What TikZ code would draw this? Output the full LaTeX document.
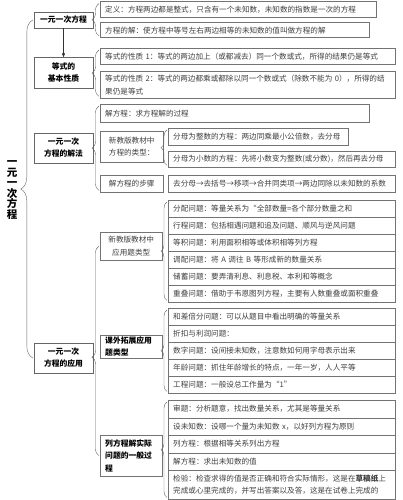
\documentclass[tikz,border=0pt]{standalone}
\usepackage{fontspec}
\setmainfont{Noto Sans CJK SC}
\usetikzlibrary{arrows,shadows,decorations.pathreplacing}
\tikzset{
  >=stealth'
}

\begin{document}
\begin{tikzpicture}[x=1pt,y=-1pt,
    boxshadow/.style={drop shadow={shadow xshift=0.7pt,shadow yshift=-0.7pt,fill=black!40}},
    topic/.style={draw=black!60,fill=white,align=center,inner sep=1pt,minimum width=59pt,boxshadow,font=\fontsize{7.8}{12}\selectfont\bfseries},
    item/.style={draw=black!55,fill=white,text=black!75,anchor=north west,align=left,inner xsep=5pt,inner ysep=0pt,boxshadow,font=\fontsize{7.6}{12.8}\selectfont},
    tag/.style={draw=black!55,fill=white,text=black!75,anchor=north west,align=center,inner sep=1pt,boxshadow,font=\fontsize{7.6}{12.5}\selectfont},
    brace/.style={decorate,decoration={brace,amplitude=#1},draw=black!60}]
        \useasboundingbox (0,0) rectangle (403,500);

        % root and first level
        \node (root) at (12,190) [align=center,font=\fontsize{10.5}{10.6}\selectfont\bfseries] {一\\元\\一\\次\\方\\程};
        \node (L1a) at (63.5,20) [topic,minimum height=16pt] {一元一次方程};
        \node (L1b) at (63.5,72.5) [topic,minimum height=31pt] {等式的\\基本性质};
        \node (L1c) at (63.5,148) [topic,minimum height=30pt] {一元一次\\方程的解法};
        \node (L1d) at (63.5,358) [topic,minimum height=30pt] {一元一次\\方程的应用};
        \draw[->,black!80] (L1a) -- (L1b);
        \draw[brace=12pt] ([xshift=-1pt]L1d.west) -- ([xshift=-1pt]L1a.west);

        % definition
        \node (def) at (100,1.5) [item,text width=266pt,minimum height=15.5pt] {定义：方程两边都是整式，只含有一个未知数，未知数的指数是一次的方程};
        \node (sol) at (100,22.5) [item,text width=259pt,minimum height=15pt] {方程的解：使方程中等号左右两边相等的未知数的值叫做方程的解};
        \draw[brace=7pt] ([shift={(-1,-2)}]sol.south west) -- ([shift={(-1,2)}]def.north west);

        % properties
        \node (p1) at (100,48) [item,text width=285pt,minimum height=16pt] {等式的性质 1：等式的两边加上（或都减去）同一个数或式，所得的结果仍是等式};
        \node (p2) at (100,71) [item,text width=285pt,minimum height=27pt] {等式的性质 2：等式的两边都乘或都除以同一个数或式（除数不能为 0），所得的结\\果仍是等式};
        \draw[brace=7pt] ([shift={(-1,-2)}]p2.south west) -- ([shift={(-1,2)}]p1.north west);

        % solving
        \node (jie) at (100,104) [item,text width=259pt,minimum height=18pt] {解方程：求方程解的过程};
        \node (kind) at (100,131) [tag,minimum width=63pt,minimum height=31pt] {新教版教材中\\方程的类型：};
        \node (t1) at (168,128) [item,text width=170pt,minimum height=17pt] {分母为整数的方程：两边同乘最小公倍数，去分母};
        \node (t2) at (168,151) [item,text width=217pt,minimum height=16pt] {分母为小数的方程：先将小数变为整数(或分数)，然后再去分母};
        \node (steps) at (100,175) [tag,minimum width=63pt,minimum height=17pt] {解方程的步骤};
        \node (st) at (168,175) [item,text width=217pt,minimum height=17pt] {去分母→去括号→移项→合并同类项→两边同除以未知数的系数};
        \draw[brace=7pt] ([shift={(-1,-2)}]steps.south west) -- ([shift={(-1,2)}]jie.north west);
        \draw[brace=6pt] ([shift={(-1,-2)}]t2.south west) -- ([shift={(-1,2)}]t1.north west);

        % applications
        \node (app1) at (100,232) [tag,minimum width=62pt,minimum height=28pt] {新教版教材中\\应用题类型};
        \node (a1) at (168,200) [item,text width=217pt,minimum height=17pt] {分配问题：等量关系为“全部数量=各个部分数量之和};
        \node (a2) at (168,217) [item,text width=217pt,minimum height=17pt] {行程问题：包括相遇问题和追及问题、顺风与逆风问题};
        \node (a3) at (168,234) [item,text width=217pt,minimum height=17pt] {等积问题：利用面积相等或体积相等列方程};
        \node (a4) at (168,251) [item,text width=217pt,minimum height=17pt] {调配问题：将 A 调往 B 等形成新的数量关系};
        \node (a5) at (168,268) [item,text width=217pt,minimum height=17pt] {储蓄问题：要弄清利息、利息税、本利和等概念};
        \node (a6) at (168,285) [item,text width=217pt,minimum height=17pt] {重叠问题：借助于韦恩图列方程，主要有人数重叠或面积重叠};
        \draw[brace=6pt] ([shift={(-1,-2)}]a6.south west) -- ([shift={(-1,2)}]a1.north west);

        \node (app2) at (100,335) [tag,align=left,text width=52pt,inner xsep=5pt,minimum height=23pt,text=black,font=\fontsize{7.8}{12.5}\selectfont\bfseries] {课外拓展应用\\题类型};
        \node (b1) at (168,308) [item,text width=217pt,minimum height=17pt] {和差倍分问题：可以从题目中看出明确的等量关系};
        \node (b2) at (168,325) [item,text width=217pt,minimum height=17pt] {折扣与利润问题：};
        \node (b3) at (168,342) [item,text width=217pt,minimum height=17pt] {数字问题：设间接未知数，注意数如何用字母表示出来};
        \node (b4) at (168,359) [item,text width=217pt,minimum height=17pt] {年龄问题：抓住年龄增长的特点，一年一岁，人人平等};
        \node (b5) at (168,376) [item,text width=217pt,minimum height=17pt] {工程问题：一般设总工作量为“1”};
        \draw[brace=6pt] ([shift={(-1,-2)}]b5.south west) -- ([shift={(-1,2)}]b1.north west);

        \node (app3) at (100,435) [tag,align=left,text width=52pt,inner xsep=5pt,minimum height=41pt,text=black,font=\fontsize{7.8}{12.5}\selectfont\bfseries] {列方程解实际\\问题的一般过\\程};
        \node (c1) at (168,400) [item,text width=217pt,minimum height=17.5pt] {审题：分析题意，找出数量关系，尤其是等量关系};
        \node (c2) at (168,417.5) [item,text width=217pt,minimum height=17.5pt] {设未知数：设哪一个量为未知数 x，以好列方程为原则};
        \node (c3) at (168,435) [item,text width=217pt,minimum height=17.5pt] {列方程：根据相等关系列出方程};
        \node (c4) at (168,452.5) [item,text width=217pt,minimum height=17.5pt] {解方程：求出未知数的值};
        \node (c5) at (168,470) [item,text width=217pt,minimum height=29pt] {检验：检查求得的值是否正确和符合实际情形，这是在\textbf{草稿纸}上\\完成或心里完成的，并写出答案以及答，这是在试卷上完成的};
        \draw[brace=6pt] ([shift={(-1,-2)}]c5.south west) -- ([shift={(-1,2)}]c1.north west);

        \draw[brace=7pt,decoration={aspect=0.47}] ([xshift=-1pt]app3.west) -- ([xshift=-1pt]app1.west);
    \end{tikzpicture}
\end{document}
